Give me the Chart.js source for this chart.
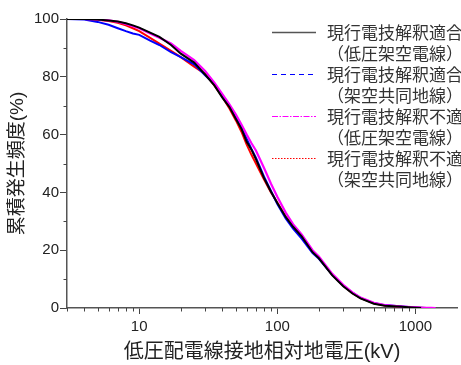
<!DOCTYPE html>
<html lang="ja">
<head>
    <meta charset="UTF-8">
    <title>累積発生頻度</title>
    <script src="https://cdn.jsdelivr.net/npm/chart.js"></script>
    <style>
        body {
            margin: 0;
            background: #fff;
        }
        #wrap {
            width: 461px;
            height: 365px;
        }
    </style>
</head>
<body>
    <div id="wrap"><canvas id="freqChart"></canvas></div>

    <script>
        // 電圧 (kV) - 各系列共通
        const xVals = [3, 4, 5, 6, 7, 8, 9, 10, 12, 14, 17, 20, 25, 30, 35, 40, 45, 50, 55, 60, 65, 70,
                       80, 90, 100, 115, 130, 150, 180, 200, 250, 300, 350, 400, 500, 600, 800, 1000,
                       1100, 1200, 1300, 1400];

        // 累積発生頻度 (%)
        const tekigouTeiatsu = [100, 100, 99.8, 99.5, 99.1, 98.5, 97.8, 97.0, 95.3, 93.8, 91.0, 88.0, 84.9, 80.8,
                                77.0, 72.8, 69.5, 65.5, 62.0, 57.5, 54.8, 51.5, 45.0, 40.2, 36.3, 31.5, 28.1,
                                24.8, 19.3, 17.2, 11.3, 7.5, 5.0, 3.3, 1.5, 0.8, 0.4, 0.1, 0, null, null, null];
        const tekigouKyodo = [100, 99.8, 99.0, 98.0, 96.8, 95.8, 95.0, 94.5, 92.5, 91.0, 88.5, 86.8, 84.3, 80.5,
                              77.5, 73.5, 70.0, 66.0, 62.5, 58.5, 55.0, 52.0, 45.5, 40.5, 36.0, 31.0, 27.5,
                              24.0, 19.0, 17.0, 11.5, 7.8, 5.3, 3.5, 1.7, 1.0, 0.5, 0.2, 0.1, 0, null, null];
        const futekigouTeiatsu = [100, 100, 99.8, 99.5, 99.0, 98.3, 97.5, 96.8, 95.0, 93.5, 91.5, 89.0, 85.8, 82.0,
                                  78.0, 74.0, 70.5, 67.0, 63.5, 60.0, 57.0, 54.5, 48.5, 43.0, 38.5, 33.0, 29.0,
                                  25.5, 20.0, 17.8, 11.8, 8.0, 5.4, 3.6, 1.8, 1.0, 0.5, 0.2, 0.1, 0.05, 0.02, 0];
        const futekigouKyodo = [100, 100, 99.7, 99.3, 98.7, 97.8, 96.8, 95.8, 93.5, 91.5, 89.0, 86.8, 83.5, 81.0,
                                77.0, 73.0, 69.0, 65.0, 61.0, 56.5, 53.0, 50.0, 44.5, 40.0, 36.5, 31.5, 28.0,
                                25.0, 19.5, 17.3, 11.5, 7.7, 5.1, 3.4, 1.6, 0.9, 0.4, 0.2, 0.1, 0, null, null];

        const xTickVals = [3, 4, 5, 6, 7, 8, 9, 10, 20, 30, 40, 50, 60, 70, 80, 90, 100,
                           200, 300, 400, 500, 600, 700, 800, 900, 1000, 2000];
        const xTickLabels = [10, 100, 1000];
        const yTickLabels = [0, 20, 40, 60, 80, 100];

        const legendTexts = [
            ["現行電技解釈適合", "（低圧架空電線）"],
            ["現行電技解釈適合", "（架空共同地線）"],
            ["現行電技解釈不適合", "（低圧架空電線）"],
            ["現行電技解釈不適合", "（架空共同地線）"]
        ];

        const jpFont = "'Liberation Sans', 'Noto Sans CJK JP', sans-serif";
        const axisColor = "#555";

        function toPoints(vals) {
            return xVals.map((x, i) => ({ x: x, y: vals[i] }));
        }

        // 凡例と補助目盛り
        const extras = {
            id: "extras",
            afterDraw(chart) {
                const ctx = chart.ctx;
                const area = chart.chartArea;
                ctx.save();
                ctx.strokeStyle = "#444";
                ctx.lineWidth = 1;

                // minor ticks
                const xs = chart.scales.x;
                xs.ticks.forEach(t => {
                    if (xTickLabels.includes(t.value)) return;
                    const px = Math.round(xs.getPixelForValue(t.value)) + 0.5;
                    if (px > area.right) return;
                    ctx.beginPath();
                    ctx.moveTo(px, area.bottom);
                    ctx.lineTo(px, area.bottom + 3.5);
                    ctx.stroke();
                });
                const ys = chart.scales.y;
                ys.ticks.forEach(t => {
                    if (yTickLabels.includes(t.value)) return;
                    const py = Math.round(ys.getPixelForValue(t.value)) + 0.5;
                    ctx.beginPath();
                    ctx.moveTo(area.left, py);
                    ctx.lineTo(area.left - 3.5, py);
                    ctx.stroke();
                });

                // legend
                const dashes = [[], [5, 4], [6, 1.5, 1.5, 1.5], [1.5, 1.5]];
                const sampleColors = ["#555", "#0000ff", "#ff00ff", "#ff0000"];
                ctx.font = "17px 'Noto Sans CJK JP', sans-serif";
                ctx.textBaseline = "middle";
                ctx.fillStyle = "#333";
                legendTexts.forEach((lines, i) => {
                    const y = 32.5 + i * 42;
                    ctx.strokeStyle = sampleColors[i];
                    ctx.lineWidth = i === 0 ? 1.5 : 1.2;
                    ctx.setLineDash(dashes[i]);
                    ctx.beginPath();
                    ctx.moveTo(272, y);
                    ctx.lineTo(316, y);
                    ctx.stroke();
                    ctx.setLineDash([]);
                    ctx.fillText(lines[0], 327, y);
                    ctx.fillText(lines[1], 327, y + 21.5);
                });
                ctx.restore();
            }
        };

        new Chart(document.getElementById("freqChart"), {
            type: "line",
            data: {
                datasets: [
                    { label: "現行電技解釈適合（低圧架空電線）", data: toPoints(tekigouTeiatsu),
                      borderColor: "#000", borderWidth: 2, order: 1 },
                    { label: "現行電技解釈適合（架空共同地線）", data: toPoints(tekigouKyodo),
                      borderColor: "#0000ff", borderWidth: 2, order: 3 },
                    { label: "現行電技解釈不適合（低圧架空電線）", data: toPoints(futekigouTeiatsu),
                      borderColor: "#ff00ff", borderWidth: 2.2, order: 2 },
                    { label: "現行電技解釈不適合（架空共同地線）", data: toPoints(futekigouKyodo),
                      borderColor: "#ff0000", borderWidth: 2, order: 4 }
                ]
            },
            options: {
                responsive: true,
                maintainAspectRatio: false,
                animation: false,
                layout: { padding: { top: 19, left: 0, right: 0, bottom: 0 } },
                elements: { point: { radius: 0 }, line: { tension: 0 } },
                plugins: {
                    legend: { display: false },
                    tooltip: { enabled: false }
                },
                scales: {
                    x: {
                        type: "logarithmic",
                        min: 3,
                        max: 2000,
                        afterBuildTicks: s => { s.ticks = xTickVals.map(v => ({ value: v })); },
                        afterFit: s => { s.height = 57; },
                        ticks: {
                            autoSkip: false,
                            maxRotation: 0,
                            padding: 4,
                            color: "#222",
                            font: { family: jpFont, size: 15 },
                            callback: v => xTickLabels.includes(v) ? String(v) : ""
                        },
                        grid: {
                            drawOnChartArea: false,
                            tickLength: 6,
                            tickWidth: 1,
                            tickColor: c => (c.tick && xTickLabels.includes(c.tick.value)) ? "#444" : "rgba(0,0,0,0)"
                        },
                        border: { color: axisColor, width: 1.5 },
                        title: {
                            display: true,
                            text: "低圧配電線接地相対地電圧(kV)",
                            color: "#222",
                            font: { family: jpFont, size: 20 },
                            padding: { top: 0, bottom: 1 }
                        }
                    },
                    y: {
                        min: 0,
                        max: 100,
                        afterFit: s => { s.width = 67; },
                        ticks: {
                            stepSize: 10,
                            autoSkip: false,
                            padding: 1,
                            color: "#222",
                            font: { family: jpFont, size: 15 },
                            callback: v => yTickLabels.includes(v) ? String(v) : ""
                        },
                        grid: {
                            drawOnChartArea: false,
                            tickLength: 7,
                            tickWidth: 1,
                            tickColor: c => (c.tick && yTickLabels.includes(c.tick.value)) ? "#444" : "rgba(0,0,0,0)"
                        },
                        border: { color: axisColor, width: 1.5 },
                        title: {
                            display: true,
                            text: "累積発生頻度(%)",
                            color: "#222",
                            font: { family: jpFont, size: 19 },
                            padding: { top: 6, bottom: 0 }
                        }
                    }
                }
            },
            plugins: [extras]
        });
    </script>
</body>
</html>
